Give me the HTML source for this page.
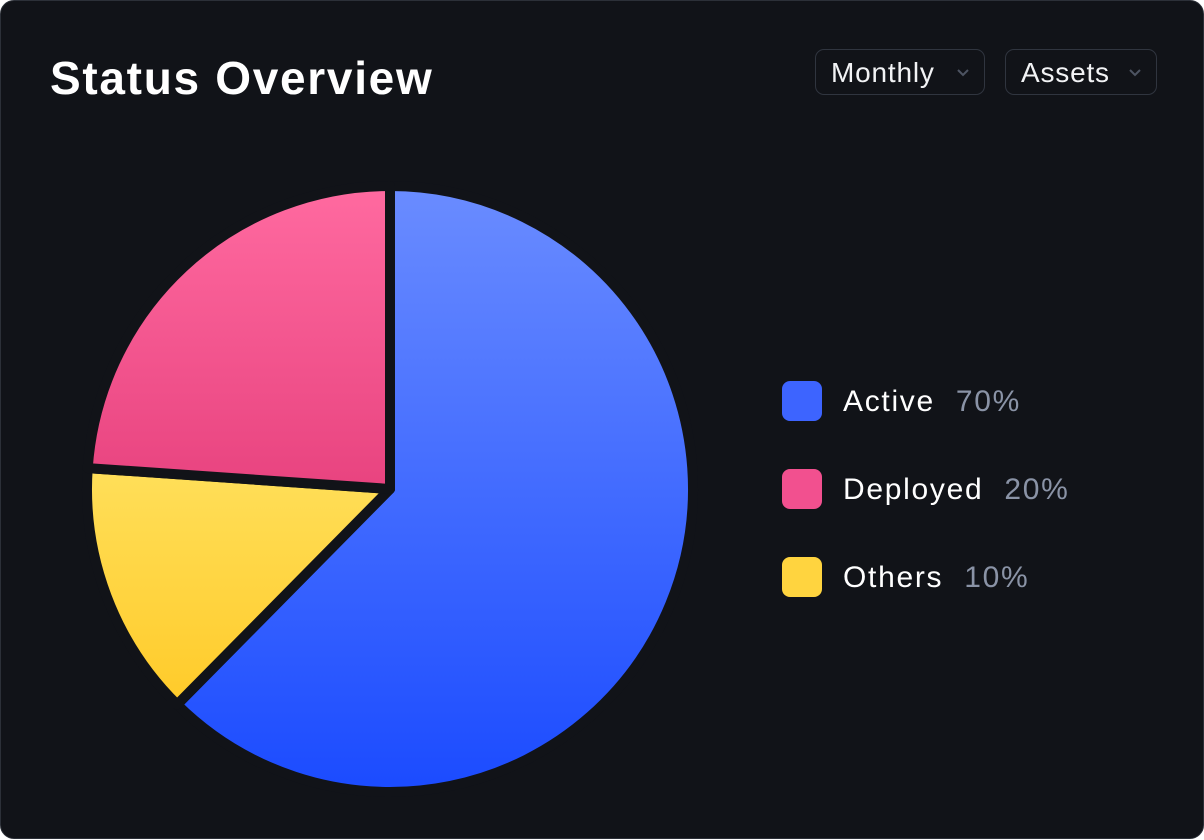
<!DOCTYPE html>
<html><head><meta charset="utf-8"><style>
html,body{margin:0;padding:0;background:#fff;}
body{width:1204px;height:839px;overflow:hidden;font-family:"Liberation Sans",sans-serif;}
.card{position:absolute;left:0;top:0;width:1202px;height:837px;border:1px solid #2c3038;border-radius:14px;background:#111318;}
.title{position:absolute;left:49px;top:50px;color:#fff;font-size:46px;font-weight:bold;letter-spacing:1.7px;}
.dd{position:absolute;top:48px;height:46px;border:1.5px solid #30353f;border-radius:9px;box-sizing:border-box;color:#f2f3f5;font-size:28px;letter-spacing:0.8px;line-height:45px;padding-left:15px;}
.dd svg{position:absolute;right:14px;top:18px;}
.leg{position:absolute;left:781px;height:40px;font-size:30px;letter-spacing:1.7px;color:#fff;line-height:42px;}
.sw{position:absolute;left:0;top:0;width:40px;height:40px;border-radius:8px;}
.leg .lab{position:absolute;left:61px;white-space:nowrap;}
.pct{color:#8a93a6;margin-left:21px;}
</style></head><body>
<div class="card">
<div class="title">Status Overview</div>
<div class="dd" style="left:814px;width:170px">Monthly<svg width="14" height="9" viewBox="0 0 14 9"><path d="M2 2l5 5 5-5" stroke="#4d5462" stroke-width="2" fill="none"/></svg></div>
<div class="dd" style="left:1004px;width:152px">Assets<svg width="14" height="9" viewBox="0 0 14 9"><path d="M2 2l5 5 5-5" stroke="#4d5462" stroke-width="2" fill="none"/></svg></div>
<svg id="pie" width="1204" height="839" style="position:absolute;left:0;top:0">
<defs>
<linearGradient id="g0" gradientUnits="userSpaceOnUse" x1="0" y1="185" x2="0" y2="791"><stop offset="0" stop-color="#6a8cff"/><stop offset="1" stop-color="#1b4bff"/></linearGradient>
<linearGradient id="g1" gradientUnits="userSpaceOnUse" x1="0" y1="185" x2="0" y2="490"><stop offset="0" stop-color="#ff6aa0"/><stop offset="1" stop-color="#e8437f"/></linearGradient>
<linearGradient id="g2" gradientUnits="userSpaceOnUse" x1="0" y1="465" x2="0" y2="700"><stop offset="0" stop-color="#ffdf5a"/><stop offset="1" stop-color="#ffcb2a"/></linearGradient>
</defs>
</svg>
<div class="leg" style="top:380px"><div class="sw" style="background:#3d64ff"></div><span class="lab">Active<span class="pct">70%</span></span></div>
<div class="leg" style="top:468px"><div class="sw" style="background:#f2508f"></div><span class="lab">Deployed<span class="pct">20%</span></span></div>
<div class="leg" style="top:556px"><div class="sw" style="background:#ffd43f"></div><span class="lab">Others<span class="pct">10%</span></span></div>
</div>
<script>
const categories=["Active","Others","Deployed"];
const sliceValues=[62.4,13.7,23.9];
const fills=["url(#g0)","url(#g2)","url(#g1)"];
const svg=document.getElementById('pie');
const cx=389,cy=488,r=303;
const total=sliceValues.reduce((a,b)=>a+b,0);
function pt(a){return [cx+r*Math.sin(a),cy-r*Math.cos(a)];}
let start=0;
sliceValues.forEach((v,i)=>{
  const ang=v/total*2*Math.PI;
  const end=start+ang;
  const p0=pt(start),p1=pt(end);
  const d=`M${cx},${cy}L${p0[0]},${p0[1]}A${r},${r} 0 ${ang>Math.PI?1:0} 1 ${p1[0]},${p1[1]}Z`;
  const p=document.createElementNS('http://www.w3.org/2000/svg','path');
  p.setAttribute('d',d);
  p.setAttribute('fill',fills[i]);
  p.setAttribute('stroke','#111318');
  p.setAttribute('stroke-width','10');
  p.setAttribute('stroke-linejoin','round');
  
  
  svg.appendChild(p);
  start=end;
});
</script>
</body></html>
